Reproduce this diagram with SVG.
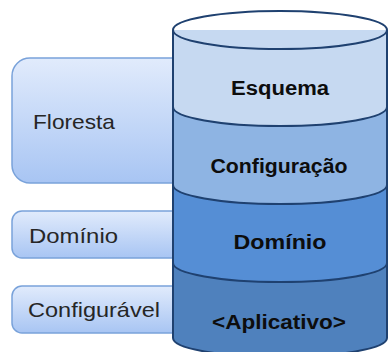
<svg xmlns="http://www.w3.org/2000/svg" width="388" height="352" viewBox="0 0 388 352">
<defs>
<linearGradient id="boxg" x1="0" y1="0" x2="0" y2="1">
<stop offset="0" stop-color="#e1ebfc"/>
<stop offset="1" stop-color="#a8c5f3"/>
</linearGradient>
<style>
.box{fill:url(#boxg);stroke:#79a2da;stroke-width:1.5}
.lbl{font-family:"Liberation Sans",Arial,sans-serif;font-size:21px;fill:#262626}
.cl{font-family:"Liberation Sans",Arial,sans-serif;font-size:20px;font-weight:bold;fill:#0d0d0d;text-anchor:middle}
.ol{fill:none;stroke:#1f4170;stroke-width:2}
</style>
</defs>
<rect width="388" height="352" fill="#ffffff"/>
<g id="floresta">
<rect class="box" x="12" y="58" width="200" height="125" rx="18"/>
<text class="lbl" x="33" y="129" font-size="22" textLength="82" lengthAdjust="spacingAndGlyphs">Floresta</text>
</g>
<g id="dominio">
<rect class="box" x="12" y="211" width="200" height="47" rx="10"/>
<text class="lbl" x="29" y="243" textLength="89" lengthAdjust="spacingAndGlyphs">Domínio</text>
</g>
<g id="configuravel">
<rect class="box" x="12" y="286" width="200" height="47" rx="10"/>
<text class="lbl" x="28" y="317" textLength="132" lengthAdjust="spacingAndGlyphs">Configurável</text>
</g>
<g id="cylinder">
<path d="M173,263 A107,19 0 0 0 387,263 L387,338 A107,19 0 0 1 173,338 Z" fill="#4f81bd"/>
<path d="M173,185 A107,19 0 0 0 387,185 L387,263 A107,19 0 0 1 173,263 Z" fill="#558ed5"/>
<path d="M173,107 A107,19 0 0 0 387,107 L387,185 A107,19 0 0 1 173,185 Z" fill="#8eb4e3"/>
<path d="M173,30 L173,107 A107,19 0 0 0 387,107 L387,30 Z" fill="#c6d9f1"/>
<ellipse cx="280" cy="30" rx="107" ry="19" fill="#c6d9f1" class="ol"/>
<path class="ol" d="M173,107 A107,19 0 0 0 387,107"/>
<path class="ol" d="M173,185 A107,19 0 0 0 387,185"/>
<path class="ol" d="M173,263 A107,19 0 0 0 387,263"/>
<path class="ol" d="M173,30 L173,338 A107,19 0 0 0 387,338 L387,30"/>
<text class="cl" x="280" y="95" textLength="98" lengthAdjust="spacingAndGlyphs">Esquema</text>
<text class="cl" x="279" y="173" textLength="137" lengthAdjust="spacingAndGlyphs">Configuração</text>
<text class="cl" x="280" y="249" textLength="93" lengthAdjust="spacingAndGlyphs">Domínio</text>
<text class="cl" x="279" y="329" textLength="134" lengthAdjust="spacingAndGlyphs">&lt;Aplicativo&gt;</text>
</g>
<g id="connectors"/>
</svg>
